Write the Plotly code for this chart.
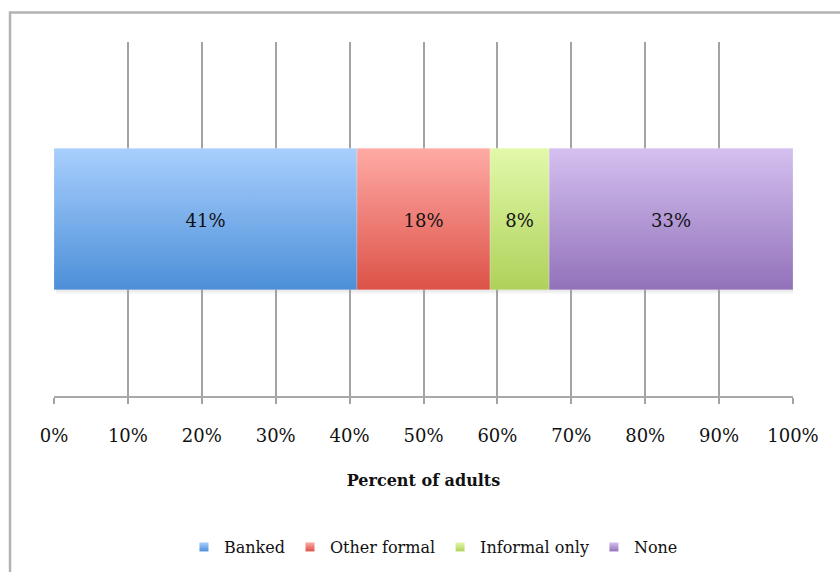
import plotly.graph_objects as go

# Share of adults by account type (percent)
categories = ["Banked", "Other formal", "Informal only", "None"]
shares = [41, 18, 8, 33]

# Vertical gradient colours for each segment (top -> bottom)
top_colors = ["#a9cffd", "#ffaaa5", "#e2f9aa", "#d4c0f0"]
bottom_colors = ["#4c8fd8", "#dc5247", "#afd15a", "#9271ba"]

tick_values = list(range(0, 101, 10))

BAR_LOW, BAR_HIGH = 0.3, 0.7
SERIF = "DejaVu Serif"

fig = go.Figure()

# soft drop shadow under the whole bar
total = sum(shares)
fig.add_trace(go.Scatter(
    x=[0.3, total + 0.3, total + 0.3, 0.3, 0.3],
    y=[BAR_LOW - 0.014, BAR_LOW - 0.014, BAR_LOW + 0.02, BAR_LOW + 0.02, BAR_LOW - 0.014],
    mode="none", fill="toself",
    fillgradient=dict(type="vertical",
                      colorscale=[[0, "rgba(150,150,150,0)"], [1, "rgba(120,120,120,0.55)"]]),
    hoverinfo="skip", showlegend=False,
))

base = 0
for name, val, top, bot in zip(categories, shares, top_colors, bottom_colors):
    x0, x1 = base, base + val
    fig.add_trace(go.Scatter(
        x=[x0, x1, x1, x0, x0],
        y=[BAR_LOW, BAR_LOW, BAR_HIGH, BAR_HIGH, BAR_LOW],
        mode="lines", line=dict(width=0.6, color="rgba(255,255,255,0.35)"),
        fill="toself",
        fillgradient=dict(type="vertical", colorscale=[[0, bot], [1, top]]),
        name=name, legendgroup=name, showlegend=False,
        hovertemplate=f"{name}: {val}%<extra></extra>",
    ))
    # legend entry as a small square swatch
    fig.add_trace(go.Scatter(
        x=[None], y=[None], mode="markers",
        marker=dict(symbol="square", size=9, color=top,
                    gradient=dict(type="vertical", color=bot),
                    line=dict(width=0)),
        name=name, legendgroup=name, showlegend=True,
    ))
    base = x1

# value labels in the middle of each segment
mids, acc = [], 0
for v in shares:
    mids.append(acc + v / 2)
    acc += v
fig.add_trace(go.Scatter(
    x=mids, y=[(BAR_LOW + BAR_HIGH) / 2 - 0.01] * len(shares),
    mode="text", text=[f"{v}%" for v in shares],
    textfont=dict(family=SERIF, size=18, color="#111111"),
    hoverinfo="skip", showlegend=False,
))

fig.update_layout(
    width=840, height=572,
    margin=dict(l=54, r=47, t=42, b=176, autoexpand=False),
    paper_bgcolor="white", plot_bgcolor="white",
    font=dict(family=SERIF, color="#111111"),
    showlegend=True,
    legend=dict(orientation="h", x=0.5135, xanchor="center", y=-0.4266, yanchor="middle",
                font=dict(family=SERIF, size=16), itemwidth=30, traceorder="normal",
                bgcolor="rgba(0,0,0,0)"),
    xaxis=dict(
        range=[0, 100], tickvals=tick_values, ticktext=[f"{t}%" for t in tick_values],
        showgrid=True, gridcolor="#a3a3a3", gridwidth=1.6,
        showline=True, linecolor="#a8a8a8", linewidth=2,
        ticks="outside", ticklen=6, tickwidth=1.6, tickcolor="#a3a3a3",
        tickfont=dict(family=SERIF, size=18, color="#111111"),
        ticklabelstandoff=16, automargin=False,
        zeroline=False, fixedrange=True,
        title=dict(text="<b>Percent of adults</b>", standoff=30,
                   font=dict(family=SERIF, size=16, color="#111111")),
    ),
    yaxis=dict(range=[0, 1], visible=False, fixedrange=True),
    shapes=[dict(type="rect", xref="paper", yref="paper",
                 x0=-0.0595, x1=2.0, y0=-2.0, y1=1.0833,
                 line=dict(color="#b3b3b3", width=2.5), layer="below")],
)

fig.write_html("out.html")
